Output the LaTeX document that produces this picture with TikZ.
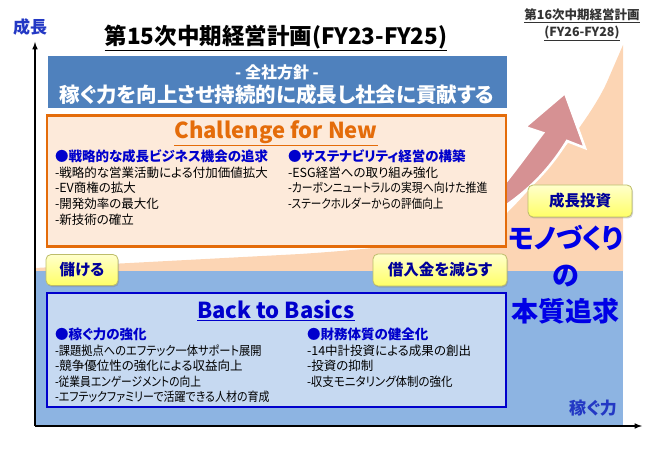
\documentclass[tikz,border=0pt]{standalone}
\usepackage{fontspec}
\setmainfont{Noto Sans CJK JP}[RawFeature=+palt]
\usepackage{tikz}
\usetikzlibrary{shadows}

\definecolor{peach}{HTML}{FCD5B4}
\definecolor{bandblue}{HTML}{8DB4E2}
\definecolor{bannerblue}{HTML}{4F81BD}
\definecolor{chfill}{HTML}{FDEADA}
\definecolor{chorange}{HTML}{E46C0A}
\definecolor{bbfill}{HTML}{C6D9F1}
\definecolor{bbblue}{HTML}{0000CC}
\definecolor{btntext}{HTML}{000099}
\definecolor{axisblue}{HTML}{2338C4}
\definecolor{bigblue}{HTML}{0000E6}
\definecolor{arrowpink}{HTML}{D69193}
\definecolor{btnedge}{HTML}{BDBD6A}
\newcommand{\squeeze}[2]{\scalebox{#1}[1]{#2}}

\begin{document}
\begin{tikzpicture}[
		x=1pt,y=-1pt,
		every node/.style={inner sep=0pt,outer sep=0pt},
		panel/.style={draw,line width=2.6pt,minimum width=459pt},
		btn/.style={rounded corners=5pt,draw=btnedge,line width=0.8pt,
			top color=yellow!20,bottom color=yellow!60,
			drop shadow={shadow xshift=1pt,shadow yshift=-1.5pt,opacity=0.35},
			text=btntext,font=\fontsize{15.5}{15.5}\selectfont\bfseries},
		col/.style={anchor=north west,align=left,font=\fontsize{12.5}{15.6}\selectfont},
		big/.style={text=bigblue,font=\fontsize{27}{27}\selectfont\bfseries}
		]
		\useasboundingbox (0,0) rectangle (645,449);
		\fill[peach] (35,271) -- (35,268) -- (300,254) .. controls (420,246) and (470,236) .. (507,213)
			.. controls (540,180) and (590,120) .. (607,82) -- (623,45) -- (623,271) -- cycle;
		\fill[bandblue] (35,271) rectangle (623,426);
		\coordinate (origin) at (35,426);
		\coordinate (ytop) at (35,42);
		\coordinate (xend) at (642,426);
		\draw[line width=1.5pt,-latex] (origin) -- (ytop);
		\draw[line width=1.5pt,-latex] (origin) -- (xend);
		\draw[white,line width=2.5pt,fill=arrowpink] (496,194) .. controls (516,170) and (530,150) .. (543,133)
			-- (525,127) -- (565,93) -- (585,148) -- (567,141)
			.. controls (548,172) and (525,194) .. (496,212) -- cycle;
		\node[text=axisblue,font=\fontsize{17}{17}\selectfont\bfseries] (growth) at (30,27) {成長};
		\node[font=\fontsize{22.5}{22.5}\selectfont\bfseries] (title) at (276,38) {\underline{第15次中期経営計画(FY23-FY25)}};
		\node[text=black!80,align=center,font=\fontsize{12.5}{16.5}\selectfont\bfseries] (next) at (582,25)
			{\underline{第16次中期経営計画}\\\underline{(FY26-FY28)}};
		\node[fill=bannerblue,minimum width=459pt,minimum height=52pt] (banner) at (277.5,82) {};
		\node[text=white,font=\fontsize{16}{16}\selectfont\bfseries] (policy) at (277,72) {- 全社方針 -};
		\node[text=white,font=\fontsize{20.5}{20.5}\selectfont\bfseries] (mission) at (277,95) {稼ぐ力を向上させ持続的に成長し社会に貢献する};
		\node[panel,draw=chorange,fill=chfill,minimum height=131pt] (challenge) at (276.5,181) {};
		\node[text=chorange,font=\fontsize{22}{22}\selectfont\bfseries] (chtitle) at (276,133) {\underline{Challenge for New}};
		\node[col] (chleft) at (55,150) {{\color{bbblue}\fontsize{13.5}{13.5}\selectfont\bfseries ●戦略的な成長ビジネス機会の追求}\\
			-戦略的な営業活動による付加価値拡大\\-EV商権の拡大\\-開発効率の最大化\\-新技術の確立};
		\node[col] (chright) at (288,150) {{\color{bbblue}\fontsize{13.5}{13.5}\selectfont\bfseries ●サステナビリティ経営の構築}\\
			-ESG経営への取り組み強化\\\squeeze{0.87}{-カーボンニュートラルの実現へ向けた推進}\\\squeeze{0.85}{-ステークホルダーからの評価向上}};
		\node[btn,minimum width=72pt,minimum height=31pt] (earn) at (82,270) {儲ける};
		\node[btn,minimum width=134pt,minimum height=32pt] (debt) at (440,270) {借入金を減らす};
		\node[btn,minimum width=104pt,minimum height=32pt] (invest) at (580,201) {成長投資};
		\node[panel,draw=bbblue,fill=bbfill,minimum height=114pt] (basics) at (276.5,350) {};
		\node[text=bbblue,font=\fontsize{22}{22}\selectfont\bfseries] (bbtitle) at (276,311) {\underline{Back to Basics}};
		\node[col] (bbleft) at (55,328) {{\color{bbblue}\fontsize{13.5}{13.5}\selectfont\bfseries ●稼ぐ力の強化}\\
			\squeeze{0.9}{-課題拠点へのエフテック一体サポート展開}\\-競争優位性の強化による収益向上\\\squeeze{0.86}{-従業員エンゲージメントの向上}\\\squeeze{0.88}{-エフテックファミリーで活躍できる人材の育成}};
		\node[col] (bbright) at (307,328) {{\color{bbblue}\fontsize{13.5}{13.5}\selectfont\bfseries ●財務体質の健全化}\\
			-14中計投資による成果の創出\\-投資の抑制\\\squeeze{0.92}{-収支モニタリング体制の強化}};
		\node[big] (mono) at (566,238) {モノづくり};
		\node[big] (no) at (566,276) {の};
		\node[big] (essence) at (565,311) {本質追求};
		\node[text=axisblue,font=\fontsize{17}{17}\selectfont\bfseries] (power) at (593,408) {稼ぐ力};
\end{tikzpicture}
\end{document}
